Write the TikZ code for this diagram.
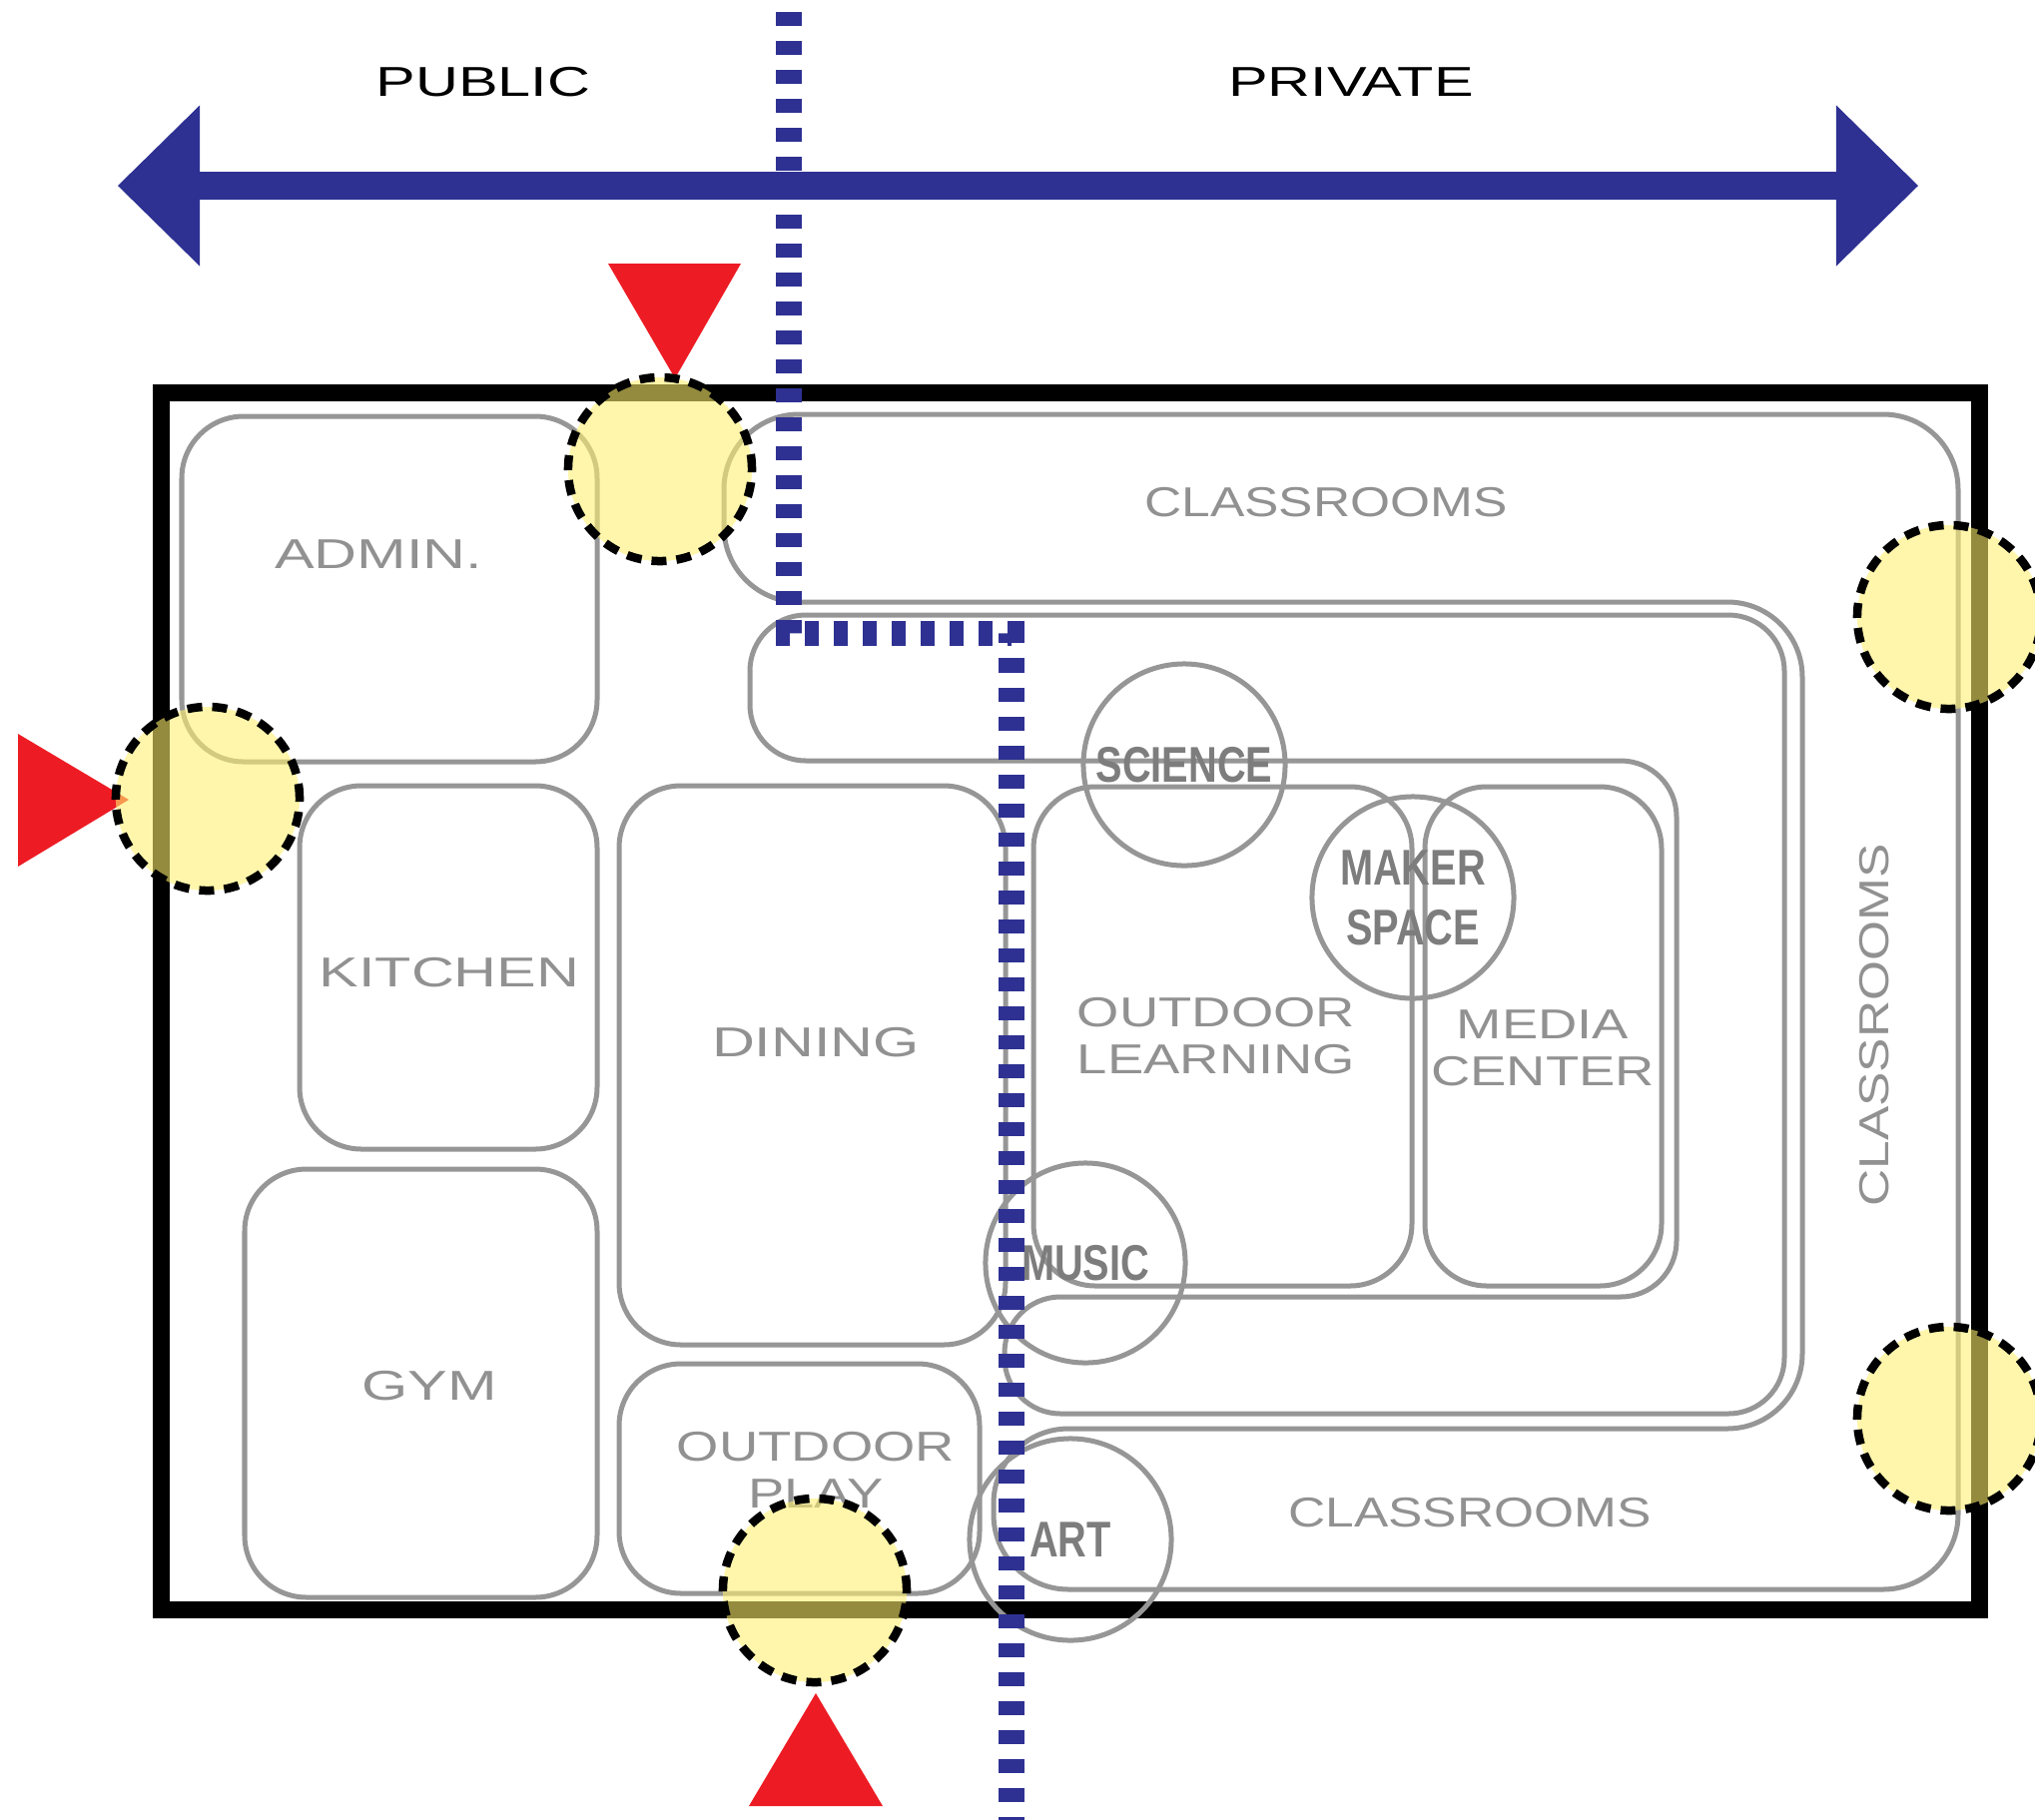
\documentclass[tikz,border=0pt]{standalone}
\usepackage{fontspec}
\setmainfont{Liberation Sans}
\newfontfamily\planfont[FakeStretch=1.42]{Liberation Sans}
\newfontfamily\pairfont[FakeStretch=1.30]{Liberation Sans}
\newfontfamily\classfont[FakeStretch=1.23]{Liberation Sans}
\newfontfamily\spacefont[FakeStretch=0.79]{Liberation Sans}
\usetikzlibrary{arrows.meta}

\definecolor{zoneblue}{RGB}{46,49,146}
\definecolor{gatered}{RGB}{237,28,36}
\definecolor{entryyellow}{RGB}{255,240,110}
\definecolor{roomgray}{RGB}{150,150,150}
\definecolor{labelgray}{RGB}{145,145,145}
\definecolor{spacegray}{RGB}{125,125,125}

\begin{document}
\begin{tikzpicture}[x=0.01cm, y=-0.01cm,
    room/.style={draw=roomgray, line width=0.05cm, rounded corners=0.62cm},
    roomname/.style={text=labelgray, align=center, inner sep=0, font=\planfont\fontsize{11.9pt}{13.4pt}\selectfont},
    pairname/.style={roomname, font=\pairfont\fontsize{11.9pt}{13.4pt}\selectfont},
    classname/.style={roomname, font=\classfont\fontsize{11.9pt}{13.4pt}\selectfont},
    space/.style={circle, draw=roomgray, line width=0.05cm, inner sep=0, minimum size=2.02cm, text=spacegray, align=center, font=\spacefont\bfseries\fontsize{14.3pt}{17.1pt}\selectfont},
    entry/.style={circle, draw=black, line width=0.085cm, dash pattern=on 0.15cm off 0.1cm, fill=entryyellow, fill opacity=0.58, minimum size=1.84cm, inner sep=0},
    gate/.style={fill=gatered},
    zone/.style={draw=zoneblue, line width=0.25cm, dash pattern=on 0.14cm off 0.15cm}]
      \useasboundingbox (0,0) rectangle (2038,1823);

      % site
      \draw[line width=0.17cm] (161.5,393.5) rectangle (1982,1612.5);

      % public / private axis
      \coordinate (westend) at (118,186);
      \coordinate (eastend) at (1921,186);
      \draw[zoneblue, line width=0.28cm, {Triangle[length=0.82cm, width=1.61cm, line width=0pt]}-{Triangle[length=0.82cm, width=1.61cm, line width=0pt]}] (westend) -- (eastend);
      \node[roomname, text=black] (public) at (484,82) {PUBLIC};
      \node[roomname, text=black] (private) at (1353,82) {PRIVATE};

      % rooms
      \draw[room] (182,417) rectangle (598,763);
      \node[roomname] (admin) at (379,555) {ADMIN.};
      \draw[room] (300,787) rectangle (598,1151);
      \node[roomname] (kitchen) at (450,974) {KITCHEN};
      \draw[room] (245,1171) rectangle (598,1600);
      \node[roomname] (gym) at (430,1388) {GYM};
      \draw[room] (620,787) rectangle (1007,1347);
      \node[roomname] (dining) at (817,1044) {DINING};
      \draw[room] (620,1366) rectangle (981,1596);
      \node[pairname] (outplay) at (817,1472) {OUTDOOR\\PLAY};
      \draw[room] (1035,788) rectangle (1414,1288);
      \node[pairname] (outlearn) at (1218,1038) {OUTDOOR\\LEARNING};
      \draw[room] (1427,788) rectangle (1664,1288);
      \node[pairname] (media) at (1545,1050) {MEDIA\\CENTER};

      % classrooms wrap round the core
      \draw[room, rounded corners=0.75cm] (725,415) -- (1961,415) -- (1961,1592) -- (995,1592) -- (995,1431) -- (1805,1431) -- (1805,603) -- (725,603) -- cycle;
      \node[classname] (classtop) at (1328,503) {CLASSROOMS};
      \node[classname, rotate=90] (classside) at (1877,1027) {CLASSROOMS};
      \node[classname] (classbottom) at (1472,1515) {CLASSROOMS};

      % circulation ring
      \draw[room, rounded corners=0.56cm] (751,616) -- (1787,616) -- (1787,1416) -- (1006,1416) -- (1006,1299) -- (1679,1299) -- (1679,762) -- (751,762) -- cycle;

      % special spaces
      \node[space] (science) at (1186,766) {SCIENCE};
      \node[space] (maker) at (1415,899) {MAKER\\SPACE};
      \node[space, minimum size=2cm] (music) at (1087,1265) {MUSIC};
      \node[space] (art) at (1072,1542) {ART};

      % public / private split
      \coordinate (splittop) at (790,12);
      \coordinate (splitbend) at (790,634);
      \coordinate (splitjog) at (1013,634);
      \coordinate (splitfoot) at (1013,1823);
      \draw[zone] (splittop) -- (splitbend) -- (splitjog) -- (splitfoot);

      % gates
      \fill[gate] (609,264) -- (742,264) -- (676,379) -- cycle;
      \fill[gate] (18,735) -- (18,868) -- (129,801) -- cycle;
      \fill[gate] (750,1809) -- (884,1809) -- (817,1696) -- cycle;

      % entries
      \node[entry] (entrytop) at (661,470) {};
      \node[entry] (entrywest) at (208,800) {};
      \node[entry] (entrysouth) at (816,1593) {};
      \node[entry] (entryeast) at (1952,618) {};
      \node[entry] (entryeastlow) at (1952,1421) {};
    \end{tikzpicture}
\end{document}
